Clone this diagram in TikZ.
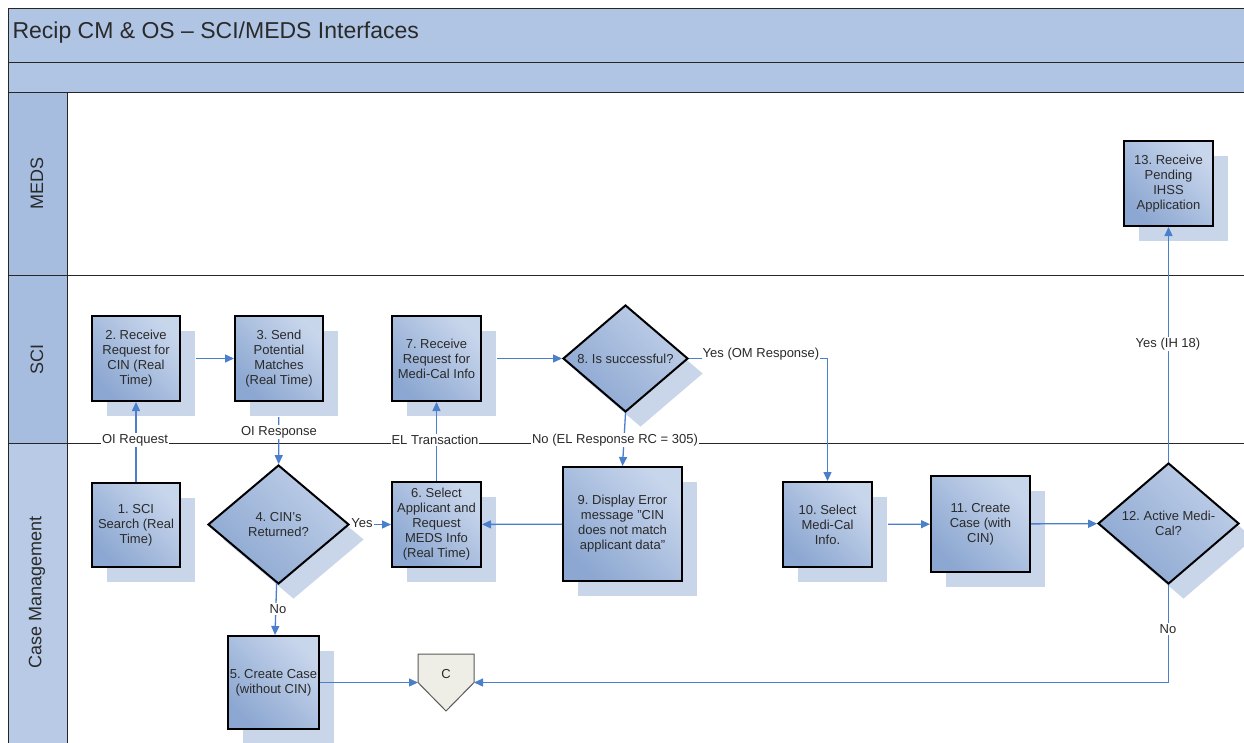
\documentclass[tikz,border=0pt]{standalone}
\usepackage{fontspec}
\setmainfont{Liberation Sans}
\frenchspacing
\usetikzlibrary{shapes.geometric,arrows.meta,shadows}
\definecolor{hdr}{HTML}{B0C4E4}
\definecolor{lanehd}{HTML}{A6BDE0}
\definecolor{lanecm}{HTML}{B8CAE6}
\definecolor{boxlight}{HTML}{C8D6EC}
\definecolor{boxdark}{HTML}{8CA7D1}
\definecolor{shad}{HTML}{C9D6E9}
\definecolor{flow}{HTML}{4A7FCB}
\definecolor{txt}{HTML}{2A2A2A}
\definecolor{pentfill}{HTML}{EEEEE6}
\tikzset{
  bxshadow/.style={drop shadow={shadow xshift=15pt, shadow yshift=-15pt, fill=shad, opacity=1, draw=none}},
  proc/.style={rectangle, draw=black, line width=2pt, top color=boxlight, bottom color=boxdark, shading angle=-45,
    bxshadow, inner sep=2pt, align=center, text=txt, font=\fontsize{13}{15}\selectfont},
  decide/.style={diamond, draw=black, line width=2pt, top color=boxlight!85!boxdark, bottom color=boxdark, shading angle=-45,
    bxshadow, inner sep=0pt, align=center, text=txt, font=\fontsize{13}{15}\selectfont},
  flowline/.style={draw=flow, line width=1.3pt, -{Triangle[length=9pt,width=8pt]}},
  lbl/.style={fill=white, inner sep=1pt, text=txt, font=\fontsize{13}{15}\selectfont},
  lanelbl/.style={rotate=90, text=txt, font=\fontsize{18}{20}\selectfont},
  frame/.style={draw=black!85, line width=0.9pt}
}
\begin{document}
\begin{tikzpicture}[x=1pt,y=-1pt]
\useasboundingbox (0,0) rectangle (1244,742);
\fill[white] (0,0) rectangle (1244,742);
% pool and lanes
\draw[frame, fill=hdr] (8,8) rectangle (1260,62);
\draw[frame, fill=hdr] (8,62) rectangle (1260,92);
\draw[frame, fill=lanehd] (8,92) rectangle (67,275);
\draw[frame, fill=lanehd] (8,275) rectangle (67,443);
\draw[frame, fill=lanecm] (8,443) rectangle (67,760);
\draw[frame] (67,92) rectangle (1260,760);
\draw[frame] (8,275) -- (1260,275);
\draw[frame] (8,443) -- (1260,443);
\node[anchor=west, text=txt, font=\fontsize{23}{26}\selectfont] (title) at (9,33) {Recip CM \& OS – SCI/MEDS Interfaces};
\node[lanelbl] (lmeds) at (37,183) {MEDS};
\node[lanelbl] (lsci) at (37,359) {SCI};
\node[lanelbl] (lcm) at (37,592) {Case Management};
% process boxes
\node[proc, minimum width=88pt, minimum height=84pt] (n1) at (136,525) {1. SCI\\Search (Real\\Time)};
\node[proc, minimum width=88pt, minimum height=85pt] (n2) at (136,358.5) {2. Receive\\Request for\\CIN (Real\\Time)};
\node[proc, minimum width=88pt, minimum height=85pt] (n3) at (279,358.5) {3. Send\\Potential\\Matches\\(Real Time)};
\node[proc, minimum width=89pt, minimum height=85pt] (n7) at (436.5,358.5) {7. Receive\\Request for\\Medi-Cal Info};
\node[decide, minimum width=125pt, minimum height=107pt] (n8) at (625.5,358.5) {8. Is successful?};
\node[decide, minimum width=141pt, minimum height=119pt] (n4) at (278.5,524.5) {4. CIN’s\\Returned?};
\node[proc, minimum width=89pt, minimum height=85pt] (n6) at (436.5,524.5) {6. Select\\Applicant and\\Request\\MEDS Info\\(Real Time)};
\node[proc, minimum width=119pt, minimum height=114pt] (n9) at (622.5,524) {9. Display Error\\message "CIN\\does not match\\applicant data"};
\node[proc, minimum width=89pt, minimum height=85pt] (n10) at (827.5,524.5) {10. Select\\Medi-Cal\\Info.};
\node[proc, minimum width=99pt, minimum height=96pt] (n11) at (980.5,524) {11. Create\\Case (with\\CIN)};
\node[decide, minimum width=141pt, minimum height=121pt] (n12) at (1168.5,523.5) {12. Active Medi-\\Cal?};
\node[proc, minimum width=89pt, minimum height=85pt] (n13) at (1168.5,183.5) {13. Receive\\Pending\\IHSS\\Application};
\node[proc, minimum width=91pt, minimum height=93pt, inner sep=0pt] (n5) at (273.5,682.5) {5. Create Case\\(without CIN)};
% off-page connector C
\node[minimum width=56pt, minimum height=57pt, inner sep=0pt, outer sep=0pt] (C) at (446,682.5) {};
\draw[fill=pentfill, draw=black!65, line width=1pt] (C.north west) -- (C.north east) -- (C.east) -- (C.south) -- (C.west) -- cycle;
\node[text=txt, font=\fontsize{13}{15}\selectfont] (Ctext) at (446,674) {C};
% connectors
\draw[flowline] (n1) -- (n2);
\draw[flowline, shorten <=15pt] (n2) -- (n3);
\draw[flowline, shorten <=15pt] (n3) -- (n4);
\draw[flowline] (n4) -- (n6);
\draw[flowline] (n4) -- (n5);
\draw[flowline] (n6) -- (n7);
\draw[flowline, shorten <=15pt] (n7) -- (n8);
\draw[flowline] (n8.south) -- (n9.north);
\draw[flowline] (n8.east) -| (n10.north);
\draw[flowline] (n9) -- (n6);
\draw[flowline, shorten <=15pt] (n10) -- (n11);
\draw[flowline] (n11) -- (n12);
\draw[flowline] (n12) -- (n13);
\draw[flowline] (n12.south) |- (C.east);
\draw[flowline] (n5) -- (C.west);
% connector labels
\node[lbl] (l1) at (135,440) {OI Request};
\node[lbl] (l2) at (279,432) {OI Response};
\node[lbl] (l3) at (435,440) {EL Transaction};
\node[lbl] (l4) at (615,440) {No (EL Response RC = 305)};
\node[lbl] (l5) at (362,523) {Yes};
\node[lbl] (l6) at (278,609) {No};
\node[lbl] (l7) at (761,354) {Yes (OM Response)};
\node[lbl] (l8) at (1168,344) {Yes (IH 18)};
\node[lbl] (l9) at (1168,629) {No};
\end{tikzpicture}
\end{document}
